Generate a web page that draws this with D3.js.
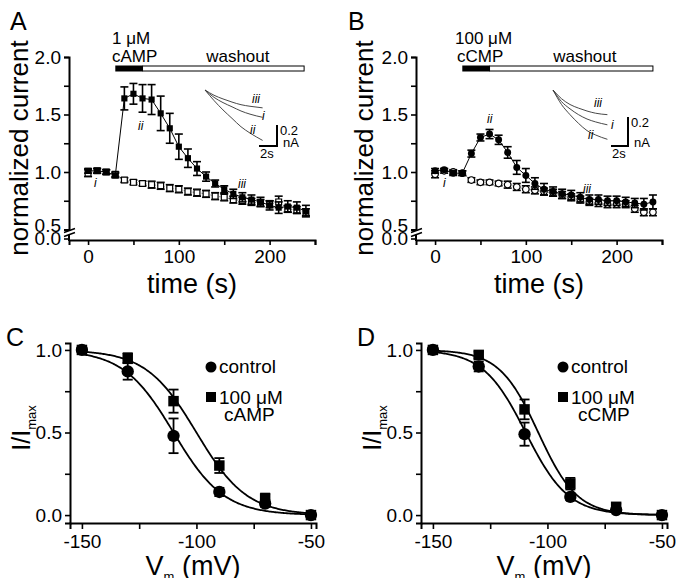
<!DOCTYPE html>
<html>
<head>
<meta charset="utf-8">
<script src="https://cdn.jsdelivr.net/npm/d3@7"></script>
<style>
body { margin: 0; background: #fff; }
svg { font-family: "Liberation Sans", Arial, sans-serif; }
</style>
</head>
<body>
<svg id="fig" width="679" height="578"></svg>
<script>
// ---- data ----
var times = [0, 10, 20, 30, 40, 50, 60, 70, 80, 90, 100, 110, 120, 130, 140, 150, 160, 170, 180, 190, 200, 210, 220, 230, 240];

// panel A: 1 uM cAMP (filled squares) vs control (open squares)
var campA = [1.01, 1.01, 1.00, 0.97, 1.64, 1.68, 1.64, 1.63, 1.51, 1.38, 1.22, 1.12, 1.03, 0.96, 0.90, 0.85, 0.81, 0.78, 0.76, 0.74, 0.71, 0.69, 0.70, 0.69, 0.66];
var campErrA = [0.02, 0.02, 0.02, 0.02, 0.10, 0.09, 0.12, 0.13, 0.15, 0.13, 0.11, 0.08, 0.06, 0.04, 0.03, 0.03, 0.04, 0.04, 0.04, 0.04, 0.04, 0.05, 0.05, 0.05, 0.05];
var ctrlA = [0.99, 1.01, 1.00, 0.98, 0.93, 0.91, 0.90, 0.89, 0.88, 0.86, 0.85, 0.83, 0.82, 0.81, 0.79, 0.78, 0.76, 0.75, 0.74, 0.73, 0.72, 0.74, 0.68, 0.67, 0.65];
var ctrlErrA = [0.03, 0.02, 0.02, 0.02, 0.02, 0.02, 0.02, 0.03, 0.03, 0.03, 0.03, 0.03, 0.03, 0.03, 0.03, 0.03, 0.03, 0.03, 0.03, 0.03, 0.03, 0.05, 0.03, 0.03, 0.03];

// panel B: 100 uM cCMP (filled circles) vs control (open circles)
var ccmpB = [1.01, 1.02, 0.99, 0.99, 1.16, 1.30, 1.33, 1.28, 1.17, 1.04, 0.97, 0.90, 0.85, 0.83, 0.81, 0.80, 0.78, 0.76, 0.76, 0.75, 0.75, 0.74, 0.73, 0.72, 0.74];
var ccmpErrB = [0.02, 0.01, 0.02, 0.02, 0.03, 0.03, 0.04, 0.04, 0.05, 0.06, 0.06, 0.05, 0.05, 0.04, 0.04, 0.04, 0.04, 0.04, 0.04, 0.04, 0.04, 0.04, 0.04, 0.05, 0.06];
var ctrlB = [0.98, 1.01, 1.00, 0.99, 0.93, 0.91, 0.91, 0.90, 0.89, 0.87, 0.85, 0.84, 0.83, 0.82, 0.80, 0.78, 0.76, 0.74, 0.73, 0.72, 0.72, 0.72, 0.68, 0.65, 0.65];
var ctrlErrB = [0.03, 0.02, 0.02, 0.02, 0.02, 0.02, 0.02, 0.02, 0.03, 0.03, 0.03, 0.03, 0.03, 0.03, 0.03, 0.03, 0.03, 0.03, 0.03, 0.03, 0.03, 0.03, 0.03, 0.03, 0.03];

// inset current traces (s, nA)
var traceT = [0, 1, 2, 3, 4, 5, 6.4];
var traceA = { iii: [0, -0.05, -0.085, -0.115, -0.14, -0.155, -0.17],
               i:   [0, -0.07, -0.12, -0.16, -0.20, -0.23, -0.26],
               ii:  [0, -0.10, -0.19, -0.27, -0.35, -0.41, -0.48] };
var traceB = { iii: [0, -0.06, -0.10, -0.125, -0.145, -0.16, -0.17],
               i:   [0, -0.08, -0.13, -0.17, -0.20, -0.22, -0.24],
               ii:  [0, -0.10, -0.17, -0.23, -0.28, -0.31, -0.34] };

// activation curves (C, D)
var volts = [-150, -130, -110, -90, -70, -50];
var ctrlC = [1.00, 0.87, 0.48, 0.14, 0.07, 0.00];
var ctrlErrC = [0.01, 0.05, 0.105, 0.025, 0.02, 0.01];
var campC = [1.00, 0.95, 0.69, 0.30, 0.10, 0.00];
var campErrC = [0.01, 0.03, 0.07, 0.045, 0.03, 0.01];
var ctrlD = [1.00, 0.90, 0.49, 0.11, 0.03, 0.00];
var ctrlErrD = [0.01, 0.03, 0.07, 0.02, 0.01, 0.01];
var ccmpD = [1.00, 0.97, 0.64, 0.19, 0.05, 0.00];
var ccmpErrD = [0.01, 0.02, 0.06, 0.035, 0.02, 0.01];
// Boltzmann fit parameters [V1/2, k]
var fitCtrlC = [-110, 11], fitCampC = [-100, 11];
var fitCtrlD = [-109.5, 9.3], fitCcmpD = [-104, 8.5];

var svg = d3.select("#fig");

function styleAxis(sel, fs) {
    sel.selectAll(".domain").attr("stroke", "#000").attr("stroke-width", 2);
    sel.selectAll(".tick line").attr("stroke", "#000").attr("stroke-width", 1.6);
    sel.selectAll(".tick text").attr("font-size", fs).attr("fill", "#000")
        .attr("font-family", "Liberation Sans, Arial, sans-serif");
}

function errorSeries(g, x, y, xs, vals, errs, o) {
    var pts = d3.zip(xs, vals, errs);
    if (o.line) {
        g.append("path").datum(pts)
            .attr("d", d3.line().x(d => x(d[0])).y(d => y(d[1])))
            .attr("fill", "none").attr("stroke", o.line)
            .attr("stroke-width", 1).attr("stroke-dasharray", o.dash || null);
    }
    var eb = g.selectAll(null).data(pts).enter().append("g")
        .attr("stroke", "#000").attr("stroke-width", o.ebw || 1.6);
    eb.append("line").attr("x1", d => x(d[0])).attr("x2", d => x(d[0]))
        .attr("y1", d => y(d[1] - d[2])).attr("y2", d => y(d[1] + d[2]));
    [-1, 1].forEach(function (s) {
        eb.append("line").attr("x1", d => x(d[0]) - o.cap).attr("x2", d => x(d[0]) + o.cap)
            .attr("y1", d => y(d[1] + s * d[2])).attr("y2", d => y(d[1] + s * d[2]));
    });
    g.selectAll(null).data(pts).enter().append("path")
        .attr("transform", d => `translate(${x(d[0])},${y(d[1])})`)
        .attr("d", d3.symbol().type(o.shape).size(o.size))
        .attr("fill", o.fill).attr("stroke", "#000").attr("stroke-width", o.fill === "#fff" ? 1.2 : 0);
}

function timePanel(p) {
    var g = svg.append("g");
    var x = d3.scaleLinear().domain([-21, 250]).range([p.left, p.right]);
    var y = d3.scaleLinear().domain([0.5, 2.0]).range([229.5, 57]);
    var y0 = 239, axisY = 240;

    var xa = g.append("g").attr("transform", `translate(0,${axisY})`)
        .call(d3.axisBottom(x).tickValues([0, 50, 100, 150, 200, 250]).tickSizeOuter(0).tickSize(5)
            .tickFormat(d => d % 100 === 0 ? d : ""));
    styleAxis(xa, 19);
    xa.selectAll(".tick text").attr("dy", "0.8em");

    var ya = g.append("g").attr("transform", `translate(${x(-21)},0)`)
        .call(d3.axisLeft(y).tickValues([0.5, 0.75, 1, 1.25, 1.5, 1.75, 2]).tickSizeOuter(0).tickSize(5)
            .tickFormat(d => (d * 2) % 1 === 0 ? d3.format(".1f")(d) : ""));
    styleAxis(ya, 19);
    ya.selectAll(".tick text").filter(d => d === 0.5).attr("dy", "0.1em");
    var ax = x(-21);
    // lower segment below the break, with its 0.0 tick
    g.append("line").attr("x1", ax).attr("x2", ax).attr("y1", 235).attr("y2", axisY + 1)
        .attr("stroke", "#000").attr("stroke-width", 2);
    g.append("line").attr("x1", ax - 5).attr("x2", ax).attr("y1", y0).attr("y2", y0)
        .attr("stroke", "#000").attr("stroke-width", 1.6);
    g.append("text").attr("x", ax - 8).attr("y", y0).attr("dy", "0.3em")
        .attr("text-anchor", "end").attr("font-size", 19).text("0.0");
    [230.5, 234.5].forEach(function (by) {
        g.append("line").attr("x1", ax - 5).attr("x2", ax + 6).attr("y1", by + 2).attr("y2", by - 2)
            .attr("stroke", "#000").attr("stroke-width", 1.4);
    });

    // treatment bar
    g.append("rect").attr("x", x(60)).attr("y", 66).attr("width", x(p.barEnd) - x(60)).attr("height", 5)
        .attr("fill", "#fff").attr("stroke", "#000").attr("stroke-width", 1);
    g.append("rect").attr("x", x(30)).attr("y", 65.5).attr("width", x(60) - x(30)).attr("height", 6)
        .attr("fill", "#000");
    g.append("text").attr("x", p.dose[0]).attr("y", 44).attr("font-size", 17).text(p.dose[1]);
    g.append("text").attr("x", p.drug[0]).attr("y", 62).attr("font-size", 17).text(p.drug[1]);
    g.append("text").attr("x", x(165)).attr("y", 62).attr("text-anchor", "middle").attr("font-size", 17).text("washout");

    // series
    errorSeries(g, x, y, times, p.ctrl, p.ctrlErr, { line: "#888", dash: "1.5,1.5", shape: p.shape, size: 34, fill: "#fff", cap: 4 });
    errorSeries(g, x, y, times, p.drugV, p.drugErr, { line: "#000", shape: p.shape, size: 38, fill: "#000", cap: 4 });

    // trace labels on main plot
    p.marks.forEach(function (m) {
        g.append("text").attr("x", m[0]).attr("y", m[1]).attr("font-size", 12)
            .attr("font-style", "italic").text(m[2]);
    });

    // inset traces
    var ins = p.inset;
    var tx = d3.scaleLinear().domain([0, 2]).range([ins.ox, ins.ox + ins.sx]);
    var ty = d3.scaleLinear().domain([0, -0.2]).range([ins.oy, ins.oy + ins.sy]);
    ["iii", "i", "ii"].forEach(function (k) {
        g.append("path").datum(d3.zip(traceT, ins.tr[k]))
            .attr("d", d3.line().x(d => tx(d[0])).y(d => ty(d[1])).curve(d3.curveMonotoneX))
            .attr("fill", "none").attr("stroke", "#333").attr("stroke-width", 0.9);
    });
    ins.labels.forEach(function (m) {
        g.append("text").attr("x", m[0]).attr("y", m[1]).attr("font-size", 12)
            .attr("font-style", "italic").text(m[2]);
    });
    var bx = ins.barX, by = ins.barY;
    g.append("path").attr("d", `M${bx - ins.sx},${by}H${bx}V${by - ins.sy}`)
        .attr("fill", "none").attr("stroke", "#000").attr("stroke-width", 2);
    g.append("text").attr("x", bx + 3).attr("y", by - ins.sy + 10).attr("font-size", 13).text("0.2");
    g.append("text").attr("x", bx + 6).attr("y", by + 1).attr("font-size", 13).text("nA");
    g.append("text").attr("x", bx - ins.sx + 1).attr("y", by + 12).attr("font-size", 13).text("2s");

    // titles
    g.append("text").attr("transform", `translate(${p.ylabX},148) rotate(-90)`)
        .attr("text-anchor", "middle").attr("font-size", 26).text("normalized current");
    g.append("text").attr("x", (p.left + p.right) / 2).attr("y", 293)
        .attr("text-anchor", "middle").attr("font-size", 27).text("time (s)");
    g.append("text").attr("x", p.letterX).attr("y", 30).attr("font-size", 25).text(p.letter);
}

function ivPanel(p) {
    var g = svg.append("g");
    var x = d3.scaleLinear().domain([-155.2, -47.8]).range([p.left, p.right]);
    var y = d3.scaleLinear().domain([-0.048, 1.042]).range([523, 343]);

    var xa = g.append("g").attr("transform", "translate(0,523)")
        .call(d3.axisBottom(x).tickValues([-150, -125, -100, -75, -50]).tickSizeOuter(0).tickSize(6)
            .tickFormat(d => d % 50 === 0 ? d : ""));
    styleAxis(xa, 19);
    xa.selectAll(".tick text").attr("dy", "0.85em");
    var ya = g.append("g").attr("transform", `translate(${p.left},0)`)
        .call(d3.axisLeft(y).tickValues([0, 0.25, 0.5, 0.75, 1]).tickSizeOuter(0).tickSize(5)
            .tickFormat(d => (d * 2) % 1 === 0 ? d3.format(".1f")(d) : ""));
    styleAxis(ya, 19);

    var vs = d3.range(-150, -49.9, 0.5);
    [p.fitCtrl, p.fitDrug].forEach(function (f) {
        g.append("path").datum(vs)
            .attr("d", d3.line().x(v => x(v)).y(v => y(1 / (1 + Math.exp((v - f[0]) / f[1])))))
            .attr("fill", "none").attr("stroke", "#000").attr("stroke-width", 1.8);
    });
    errorSeries(g, x, y, volts, p.drugV, p.drugErr, { shape: d3.symbolSquare, size: 110, fill: "#000", cap: 5, ebw: 1.8 });
    errorSeries(g, x, y, volts, p.ctrl, p.ctrlErr, { shape: d3.symbolCircle, size: 120, fill: "#000", cap: 5, ebw: 1.8 });

    // legend
    var lx = p.legX;
    g.append("circle").attr("cx", lx).attr("cy", 367).attr("r", 5.5).attr("fill", "#000");
    g.append("text").attr("x", lx + 8).attr("y", 373).attr("font-size", 19).text("control");
    g.append("rect").attr("x", lx - 5).attr("y", 392).attr("width", 10).attr("height", 10).attr("fill", "#000");
    g.append("text").attr("x", lx + 8).attr("y", 404).attr("font-size", 19).text("100 μM");
    g.append("text").attr("x", lx + p.drugDx).attr("y", 421).attr("font-size", 19).text(p.drugName);

    var yl = g.append("text").attr("transform", `translate(${p.left - 40},428) rotate(-90)`)
        .attr("text-anchor", "middle").attr("font-size", 25);
    yl.append("tspan").text("I/I");
    yl.append("tspan").attr("font-size", 13).attr("dy", 6).text("max");
    var xl = g.append("text").attr("x", (p.left + p.right) / 2).attr("y", 575)
        .attr("text-anchor", "middle").attr("font-size", 27);
    xl.append("tspan").text("V");
    xl.append("tspan").attr("font-size", 13).attr("dy", 6).text("m");
    xl.append("tspan").attr("dy", -6).text(" (mV)");
    g.append("text").attr("x", p.letterX).attr("y", 346).attr("font-size", 25).text(p.letter);
}

timePanel({
    left: 69, right: 315, barEnd: 238, letter: "A", letterX: 10, ylabX: 28,
    dose: [112, "1 μM"], drug: [112, "cAMP"], shape: d3.symbolSquare,
    ctrl: ctrlA, ctrlErr: ctrlErrA, drugV: campA, drugErr: campErrA,
    marks: [[94, 187, "i"], [138, 130, "ii"], [238, 188, "iii"]],
    inset: { ox: 205, oy: 90, sx: 18, sy: 21, tr: traceA, barX: 277, barY: 146,
             labels: [[252, 103, "iii"], [262, 120, "i"], [250, 134, "ii"]] }
});
timePanel({
    left: 416, right: 662, barEnd: 240, letter: "B", letterX: 348, ylabX: 373,
    dose: [455, "100 μM"], drug: [457, "cCMP"], shape: d3.symbolCircle,
    ctrl: ctrlB, ctrlErr: ctrlErrB, drugV: ccmpB, drugErr: ccmpErrB,
    marks: [[443, 187, "i"], [487, 123, "ii"], [583, 193, "iii"]],
    inset: { ox: 553, oy: 90, sx: 17, sy: 29, tr: traceB, barX: 628, barY: 146,
             labels: [[594, 107, "iii"], [611, 129, "i"], [588, 139, "ii"]] }
});
ivPanel({
    left: 70, right: 316, letter: "C", letterX: 6, legX: 211, drugName: "cAMP", drugDx: 13,
    ctrl: ctrlC, ctrlErr: ctrlErrC, drugV: campC, drugErr: campErrC,
    fitCtrl: fitCtrlC, fitDrug: fitCampC
});
ivPanel({
    left: 421, right: 667, letter: "D", letterX: 357, legX: 563, drugName: "cCMP", drugDx: 15,
    ctrl: ctrlD, ctrlErr: ctrlErrD, drugV: ccmpD, drugErr: ccmpErrD,
    fitCtrl: fitCtrlD, fitDrug: fitCcmpD
});
</script>
</body>
</html>
